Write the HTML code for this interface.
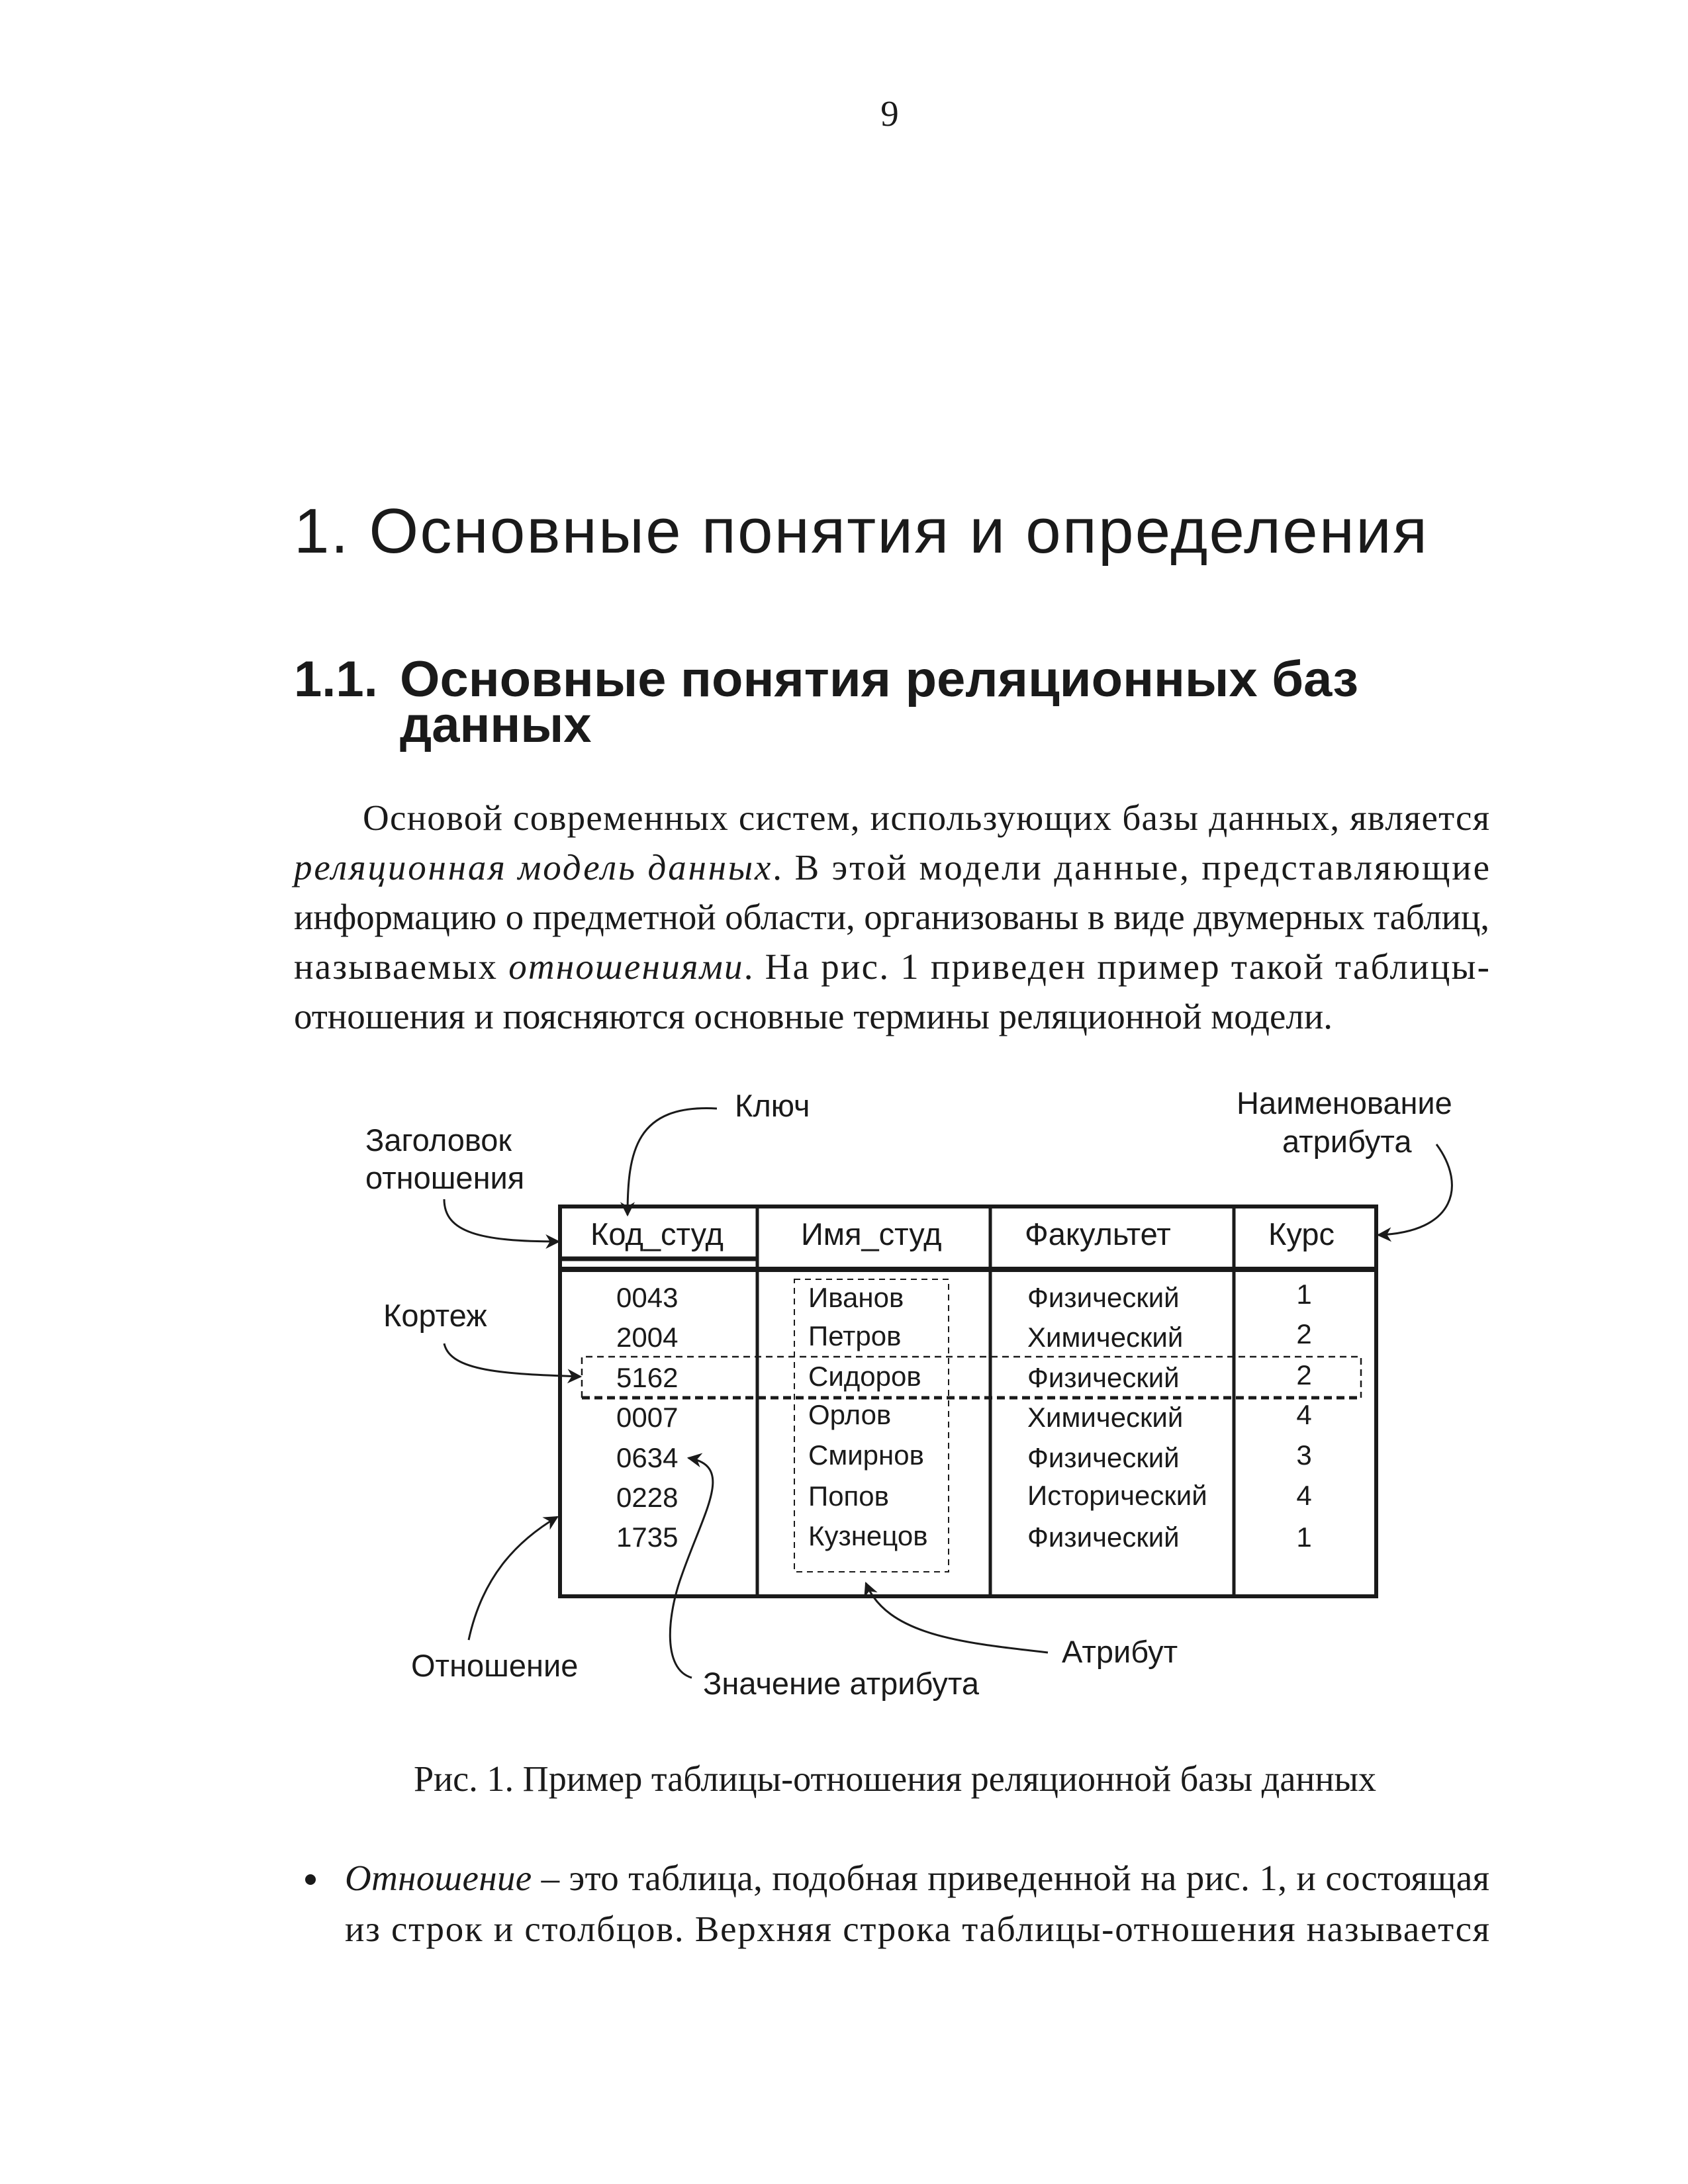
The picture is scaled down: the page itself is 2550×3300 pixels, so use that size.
<!DOCTYPE html>
<html><head><meta charset="utf-8">
<style>
html,body{margin:0;padding:0;background:#fff;}
svg{display:block;}
.s{font-family:"Liberation Sans",sans-serif;fill:#1a1a1a;}
.r{font-family:"Liberation Serif",serif;fill:#1a1a1a;font-size:55px;}
.d{font-family:"Liberation Sans",sans-serif;fill:#1a1a1a;font-size:47px;}
.v{font-family:"Liberation Sans",sans-serif;fill:#1a1a1a;font-size:42px;}
</style></head><body>
<svg width="2550" height="3300" viewBox="0 0 2550 3300" xmlns="http://www.w3.org/2000/svg">
<defs>
<marker id="a" viewBox="0 0 10 10" refX="9" refY="5" markerWidth="22" markerHeight="22" markerUnits="userSpaceOnUse" orient="auto">
<path d="M0,0 L10,5 L0,10 L3,5 z" fill="#1a1a1a"/></marker>
</defs>
<text class="r" x="1344" y="190" text-anchor="middle">9</text>
<text class="s" x="444" y="835" font-size="96" textLength="1712" lengthAdjust="spacing">1. Основные понятия и определения</text>
<text class="s" x="444" y="1052" font-size="76" font-weight="bold">1.1.</text>
<text class="s" x="604" y="1052" font-size="76" font-weight="bold" textLength="1448" lengthAdjust="spacingAndGlyphs">Основные понятия реляционных баз</text>
<text class="s" x="604" y="1121" font-size="76" font-weight="bold">данных</text>

<text class="r" x="548" y="1254" textLength="1702" lengthAdjust="spacing">Основой современных систем, использующих базы данных, является</text>
<text class="r" x="444" y="1329" textLength="1806" lengthAdjust="spacing"><tspan font-style="italic">реляционная модель данных</tspan>. В этой модели данные, представляющие</text>
<text class="r" x="444" y="1404" textLength="1806" lengthAdjust="spacing">информацию о предметной области, организованы в виде двумерных таблиц,</text>
<text class="r" x="444" y="1479" textLength="1806" lengthAdjust="spacing">называемых <tspan font-style="italic">отношениями</tspan>. На рис. 1 приведен пример такой таблицы-</text>
<text class="r" x="444" y="1554">отношения и поясняются основные термины реляционной модели.</text>

<g stroke="#1a1a1a" fill="none">
<rect x="846" y="1823" width="1233" height="589" stroke-width="6"/>
<line x1="846" y1="1918" x2="2079" y2="1918" stroke-width="8"/>
<line x1="846" y1="1902" x2="1144" y2="1902" stroke-width="7"/>
<line x1="1144" y1="1823" x2="1144" y2="2412" stroke-width="5"/>
<line x1="1496" y1="1823" x2="1496" y2="2412" stroke-width="5"/>
<line x1="1864" y1="1823" x2="1864" y2="2412" stroke-width="5"/>
<rect x="1200" y="1933" width="233" height="442" stroke-width="2" stroke-dasharray="9,7"/>
<path d="M879,2112 L879,2050 L2056,2050 L2056,2112" stroke-width="2.5" stroke-dasharray="10,7"/>
<line x1="879" y1="2112" x2="2056" y2="2112" stroke-width="5" stroke-dasharray="12,7"/>
</g>
<text class="d" x="892" y="1881">Код_студ</text>
<text class="d" x="1210" y="1881">Имя_студ</text>
<text class="d" x="1548" y="1881">Факультет</text>
<text class="d" x="1916" y="1881">Курс</text>
<g class="v">
<text x="931" y="1975">0043</text><text x="931" y="2035">2004</text><text x="931" y="2096">5162</text><text x="931" y="2156">0007</text><text x="931" y="2217">0634</text><text x="931" y="2277">0228</text><text x="931" y="2337">1735</text>
<text x="1221" y="1975">Иванов</text><text x="1221" y="2033">Петров</text><text x="1221" y="2094">Сидоров</text><text x="1221" y="2152">Орлов</text><text x="1221" y="2213">Смирнов</text><text x="1221" y="2275">Попов</text><text x="1221" y="2335">Кузнецов</text>
<text x="1552" y="1975">Физический</text><text x="1552" y="2035">Химический</text><text x="1552" y="2096">Физический</text><text x="1552" y="2156">Химический</text><text x="1552" y="2217">Физический</text><text x="1552" y="2274">Исторический</text><text x="1552" y="2337">Физический</text>
<g text-anchor="middle"><text x="1970" y="1970">1</text><text x="1970" y="2030">2</text><text x="1970" y="2092">2</text><text x="1970" y="2152">4</text><text x="1970" y="2213">3</text><text x="1970" y="2274">4</text><text x="1970" y="2337">1</text></g>
</g>

<g class="d">
<text x="1110" y="1687">Ключ</text>
<text x="552" y="1739">Заголовок</text>
<text x="552" y="1796">отношения</text>
<text x="1868" y="1683">Наименование</text>
<text x="1937" y="1741">атрибута</text>
<text x="579" y="2004">Кортеж</text>
<text x="621" y="2533">Отношение</text>
<text x="1062" y="2560">Значение атрибута</text>
<text x="1604" y="2512">Атрибут</text>
</g>
<g stroke="#1a1a1a" stroke-width="3" fill="none" marker-end="url(#a)">
<path d="M1083,1675 C960,1668 948,1740 948,1836"/>
<path d="M671,1812 C671,1862 725,1876 844,1876"/>
<path d="M2170,1729 C2215,1790 2200,1862 2082,1866"/>
<path d="M671,2030 C680,2072 760,2076 877,2080"/>
<path d="M708,2478 C728,2385 778,2330 842,2292"/>
<path d="M1045,2535 C1000,2522 1008,2440 1030,2380 C1065,2280 1110,2215 1040,2203"/>
<path d="M1583,2497 C1450,2482 1340,2470 1308,2392"/>
</g>

<text class="r" x="625" y="2706" textLength="1454" lengthAdjust="spacingAndGlyphs">Рис. 1. Пример таблицы-отношения реляционной базы данных</text>
<circle cx="469" cy="2840" r="8" fill="#1a1a1a"/>
<text class="r" x="521" y="2856" textLength="1729" lengthAdjust="spacing"><tspan font-style="italic">Отношение</tspan> – это таблица, подобная приведенной на рис. 1, и состоящая</text>
<text class="r" x="521" y="2933" textLength="1729" lengthAdjust="spacing">из строк и столбцов. Верхняя строка таблицы-отношения называется</text>
</svg>
</body></html>
